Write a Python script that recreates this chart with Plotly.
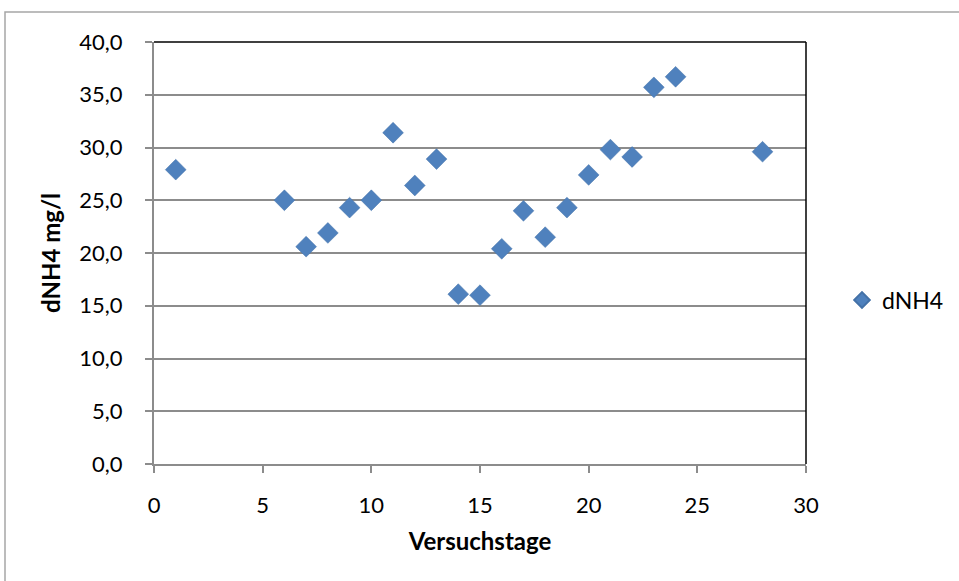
import plotly.graph_objects as go

# Versuchstage and measured dNH4 (mg/l)
tage = [1, 6, 7, 8, 9, 10, 11, 12, 13, 14, 15, 16, 17, 18, 19, 20, 21, 22, 23, 24, 28]
dnh4 = [27.9, 25.0, 20.6, 21.9, 24.3, 25.0, 31.4, 26.4, 28.9, 16.1, 16.0,
        20.4, 24.0, 21.5, 24.3, 27.4, 29.8, 29.1, 35.7, 36.7, 29.6]

x_ticks = [0, 5, 10, 15, 20, 25, 30]
y_ticks = [0, 5, 10, 15, 20, 25, 30, 35, 40]

FONT = "Lato"
TICK_FS = 22
TITLE_FS = 24
GRID = "#8c8c8c"

fig = go.Figure()
fig.add_trace(go.Scatter(
    x=tage, y=dnh4, mode="markers", name="dNH4",
    marker=dict(symbol="diamond", size=16, color="#4F81BD",
                line=dict(color="#4472A8", width=0.5)),
))

L, R, T, B = 154, 153, 42, 117
W, H = 959, 581
pw, ph = W - L - R, H - T - B

fig.update_layout(
    width=W, height=H,
    margin=dict(l=L, r=R, t=T, b=B, autoexpand=False),
    paper_bgcolor="white", plot_bgcolor="white",
    separators=",.",
    font=dict(family=FONT, size=TICK_FS, color="black"),
    showlegend=True,
    legend=dict(x=(842 - L) / pw, y=(H - B - 300) / ph, xanchor="left", yanchor="middle",
                font=dict(family=FONT, size=23), bgcolor="rgba(0,0,0,0)",
                itemsizing="constant", itemwidth=30),
    xaxis=dict(range=[0, 30], tickvals=x_ticks, showgrid=False, zeroline=False,
               showline=True, linecolor=GRID, linewidth=2,
               ticks="outside", ticklen=7, tickcolor=GRID, tickwidth=1.5,
               ticklabelstandoff=14,
               title=dict(text="<b>Versuchstage</b>", font=dict(family=FONT, size=TITLE_FS),
                          standoff=16),
               tickfont=dict(family=FONT, size=TICK_FS)),
    yaxis=dict(range=[0, 40], tickvals=y_ticks, tickformat=".1f",
               showgrid=True, gridcolor=GRID, gridwidth=1.5, zeroline=False,
               showline=True, linecolor=GRID, linewidth=2,
               ticks="outside", ticklen=7, tickcolor=GRID, tickwidth=1.5,
               ticklabelstandoff=18,
               title=dict(text="<b>dNH4 mg/l</b>", font=dict(family=FONT, size=TITLE_FS),
                          standoff=12),
               tickfont=dict(family=FONT, size=TICK_FS)),
    shapes=[
        # top and right edges of the plot area
        dict(type="line", xref="paper", yref="paper", x0=0, x1=1, y0=1, y1=1,
             line=dict(color="black", width=1.5)),
        dict(type="line", xref="paper", yref="paper", x0=1, x1=1, y0=0, y1=1,
             line=dict(color="black", width=1.5)),
        # chart area border
        dict(type="rect", xref="paper", yref="paper",
             x0=(5 - L) / pw, x1=(W + 20 - L) / pw,
             y0=(H - B - (H + 20)) / ph, y1=(H - B - 12) / ph,
             line=dict(color="#a6a6a6", width=1.5), layer="below"),
    ],
)

fig.write_html("out.html")
